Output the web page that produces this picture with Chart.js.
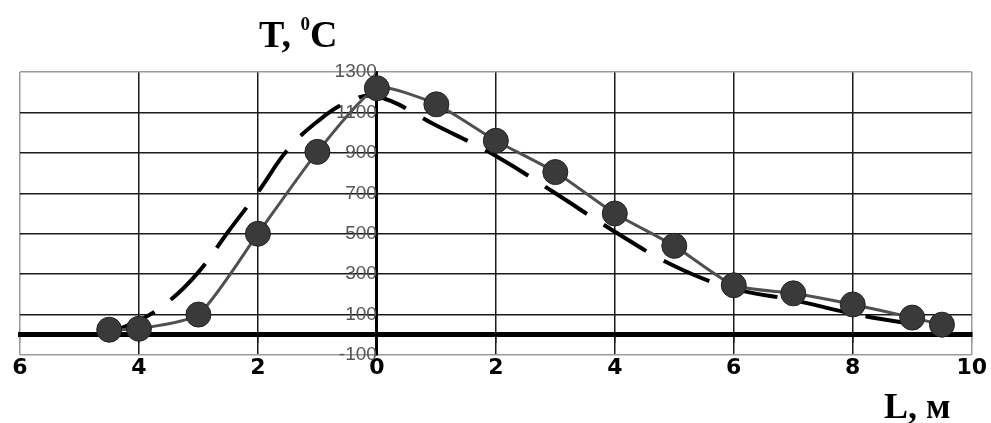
<!DOCTYPE html>
<html>
<head>
<meta charset="utf-8">
<script src="https://cdn.jsdelivr.net/npm/chart.js@4.4.1/dist/chart.umd.min.js"></script>
<style>
    html, body { margin: 0; padding: 0; background: #fff; }
    #wrap { position: relative; width: 991px; height: 423px; }
    #tempChart { position: absolute; left: 0; top: 0; }
    .lbl { position: absolute; font-family: "Liberation Serif", "Times New Roman", serif; font-weight: bold; line-height: 1; color: #000; white-space: nowrap; }
</style>
</head>
<body>
<div id="wrap">
    <canvas id="tempChart" width="991" height="423"></canvas>
    <div class="lbl" style="left:259px; top:15px; font-size:38px;">T, <span style="font-size:19px; position:relative; top:-17px;">0</span>C</div>
    <div class="lbl" style="left:884px; top:388px; font-size:36px;">L, м</div>
</div>
<script>
// измеренная температура (точки)
const measL = [-4.5, -4, -3, -2, -1, 0, 1, 2, 3, 4, 5, 6, 7, 8, 9, 9.5];
const measT = [25, 30, 100, 500, 905, 1220, 1140, 960, 805, 600, 440, 245, 205, 150, 85, 50];

// расчётная кривая (пунктир)
const calcL = [-4.5, -4, -3.5, -3, -2.5, -2, -1.5, -1, -0.5, 0, 1, 2, 3, 4, 5, 6, 7, 8, 9];
const calcT = [10, 70, 165, 310, 510, 705, 915, 1055, 1150, 1180, 1035, 885, 700, 510, 340, 228, 172, 104, 52];

const xTickValues = [-6, -4, -2, 0, 2, 4, 6, 8, 10];
const yTickValues = [-100, 100, 300, 500, 700, 900, 1100, 1300];

const toPoints = (xs, ys) => xs.map((x, i) => ({ x: x, y: ys[i] }));

const ctx = document.getElementById('tempChart').getContext('2d');
new Chart(ctx, {
    type: 'scatter',
    data: {
        datasets: [
            {
                data: toPoints(calcL, calcT),
                showLine: true,
                borderColor: '#000',
                borderWidth: 4,
                borderDash: [50, 20],
                tension: 0.4,
                pointRadius: 0,
                order: 2
            },
            {
                data: toPoints(measL, measT),
                showLine: true,
                borderColor: '#505050',
                borderWidth: 3,
                tension: 0.2,
                pointRadius: 12.5,
                pointBackgroundColor: '#3a3a3a',
                pointBorderColor: '#222',
                pointBorderWidth: 1,
                order: 1
            }
        ]
    },
    options: {
        responsive: false,
        animation: false,
        layout: { padding: { left: 20, right: 19, top: 72, bottom: 68 } },
        plugins: {
            legend: { display: false },
            tooltip: { enabled: false }
        },
        scales: {
            x: {
                type: 'linear',
                position: { y: 0 },
                min: -6,
                max: 10,
                afterBuildTicks: (axis) => { axis.ticks = xTickValues.map(v => ({ value: v })); },
                grid: {
                    color: (c) => (c.tick && (c.tick.value === -6 || c.tick.value === 10)) ? '#9a9a9a' : '#1a1a1a',
                    lineWidth: 1.5,
                    tickLength: 6
                },
                border: { color: '#000', width: 5 },
                ticks: {
                    padding: 4,
                    color: '#000',
                    font: { family: 'DejaVu Sans', weight: 'bold', size: 22, lineHeight: 2.1 },
                    callback: (v) => String(Math.abs(v))
                }
            },
            y: {
                type: 'linear',
                position: { x: 0 },
                min: -100,
                max: 1300,
                afterBuildTicks: (axis) => { axis.ticks = yTickValues.map(v => ({ value: v })); },
                grid: {
                    color: (c) => (c.tick && (c.tick.value === -100 || c.tick.value === 1300)) ? '#9a9a9a' : '#1a1a1a',
                    lineWidth: 1.5,
                    tickLength: 6
                },
                border: { color: '#000', width: 3 },
                ticks: {
                    padding: 3,
                    color: '#555',
                    font: { family: 'Liberation Sans', size: 19 },
                    callback: (v) => String(v)
                }
            }
        }
    }
});
</script>
</body>
</html>
